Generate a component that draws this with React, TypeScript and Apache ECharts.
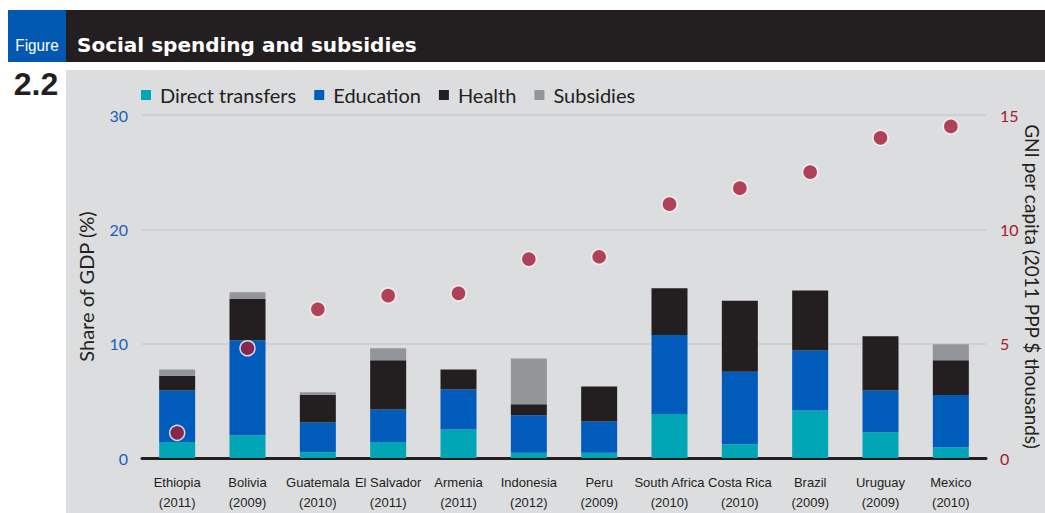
import React, { useEffect, useRef } from "react";
import * as echarts from "echarts";

const categories = [
  "Ethiopia\n(2011)",
  "Bolivia\n(2009)",
  "Guatemala\n(2010)",
  "El Salvador\n(2011)",
  "Armenia\n(2011)",
  "Indonesia\n(2012)",
  "Peru\n(2009)",
  "South Africa\n(2010)",
  "Costa Rica\n(2010)",
  "Brazil\n(2009)",
  "Uruguay\n(2009)",
  "Mexico\n(2010)",
];
const directTransfers = [1.4, 2.0, 0.5, 1.4, 2.5, 0.45, 0.45, 3.85, 1.2, 4.15, 2.25, 0.95];
const education = [4.5, 8.3, 2.6, 2.85, 3.5, 3.3, 2.75, 6.9, 6.35, 5.25, 3.65, 4.55];
const health = [1.3, 3.6, 2.4, 4.3, 1.75, 0.95, 3.05, 4.1, 6.2, 5.25, 4.75, 3.05];
const subsidies = [0.55, 0.6, 0.25, 1.05, 0, 4.0, 0, 0, 0, 0, 0, 1.4];
const gniPerCapita = [1.1, 4.8, 6.5, 7.1, 7.2, 8.7, 8.8, 11.1, 11.8, 12.5, 14.0, 14.5];

const FONT = "Lato, 'Open Sans', sans-serif";
const NARROW = "'Liberation Sans', Arial, sans-serif";

export default function App() {
  const ref = useRef<HTMLDivElement>(null);
  useEffect(() => {
    if (!ref.current) return;
    const chart = echarts.init(ref.current, undefined, { renderer: "svg" });
    const barSeries = (name: string, data: number[], color: string) => ({
      name,
      type: "bar",
      stack: "total",
      data,
      barWidth: 36,
      itemStyle: { color },
      z: 3,
    });
    chart.setOption({
      animation: false,
      backgroundColor: "#ffffff",
      graphic: [
        { type: "rect", z: -10, shape: { x: 66, y: 70, width: 979, height: 443 }, style: { fill: "#dcdddf" } },
        { type: "rect", z: -10, shape: { x: 66, y: 10, width: 979, height: 52 }, style: { fill: "#231f20" } },
        { type: "rect", z: -10, shape: { x: 8, y: 10, width: 58, height: 52 }, style: { fill: "#0058b0" } },
        {
          type: "text",
          x: 37,
          y: 45,
          scaleX: 0.9,
          style: { text: "Figure", fill: "#ffffff", font: `17px ${NARROW}`, align: "center", verticalAlign: "middle" },
        },
        {
          type: "text",
          x: 77,
          y: 45,
          style: {
            text: "Social spending and subsidies",
            fill: "#ffffff",
            font: `bold 20px 'DejaVu Sans', sans-serif`,
            align: "left",
            verticalAlign: "middle",
          },
        },
        {
          type: "text",
          x: 36,
          y: 84,
          style: { text: "2.2", fill: "#231f20", font: `bold 32px 'Liberation Sans', Arial, sans-serif`, align: "center", verticalAlign: "middle" },
        },
      ],
      legend: {
        left: 136,
        top: 80,
        icon: "rect",
        itemWidth: 10,
        itemHeight: 10,
        itemGap: 18,
        data: ["Direct transfers", "Education", "Health", "Subsidies"],
        textStyle: { fontSize: 20, color: "#231f20", fontFamily: FONT, padding: [0, 0, 0, 4] },
      },
      grid: { left: 142, right: 59, top: 115, bottom: 55, containLabel: false, outerBoundsMode: "none" },
      xAxis: {
        type: "category",
        data: categories,
        axisTick: { show: false },
        axisLine: { lineStyle: { color: "#231f20", width: 3 } },
        axisLabel: {
          interval: 0,
          margin: 14,
          fontSize: 13,
          lineHeight: 20,
          color: "#231f20",
          fontFamily: NARROW,
        },
      },
      yAxis: [
        {
          type: "value",
          min: 0,
          max: 30,
          interval: 10,
          name: "Share of GDP (%)",
          nameLocation: "middle",
          nameGap: 46,
          nameTextStyle: { fontSize: 20, color: "#231f20", fontFamily: FONT },
          axisLine: { show: false },
          axisTick: { show: false },
          axisLabel: { fontSize: 16, color: "#1a5fb8", fontFamily: FONT, margin: 14 },
          splitLine: { lineStyle: { color: "#cdcfd1", width: 2 } },
        },
        {
          type: "value",
          min: 0,
          max: 15,
          interval: 5,
          position: "right",
          name: "GNI per capita (2011 PPP $ thousands)",
          nameLocation: "middle",
          nameRotate: -90,
          nameGap: 37,
          nameMoveOverlap: false,
          nameTextStyle: { fontSize: 19, color: "#231f20", fontFamily: FONT },
          axisLine: { show: false },
          axisTick: { show: false },
          axisLabel: { fontSize: 16, color: "#a6192e", fontFamily: FONT, margin: 14 },
          splitLine: { show: false },
        },
      ],
      series: [
        barSeries("Direct transfers", directTransfers, "#00a6b6"),
        barSeries("Education", education, "#005bbb"),
        barSeries("Health", health, "#231f20"),
        barSeries("Subsidies", subsidies, "#939598"),
        {
          name: "GNI per capita",
          type: "scatter",
          yAxisIndex: 1,
          data: gniPerCapita,
          symbolSize: 15,
          itemStyle: { color: "#a51c36", borderColor: "#ffffff", borderWidth: 1.5 },
          z: 5,
        },
      ],
    });
    return () => chart.dispose();
  }, []);
  return (
    <div
      ref={ref}
      style={{ position: "fixed", left: 0, top: 0, width: 1045, height: 513 }}
    />
  );
}
